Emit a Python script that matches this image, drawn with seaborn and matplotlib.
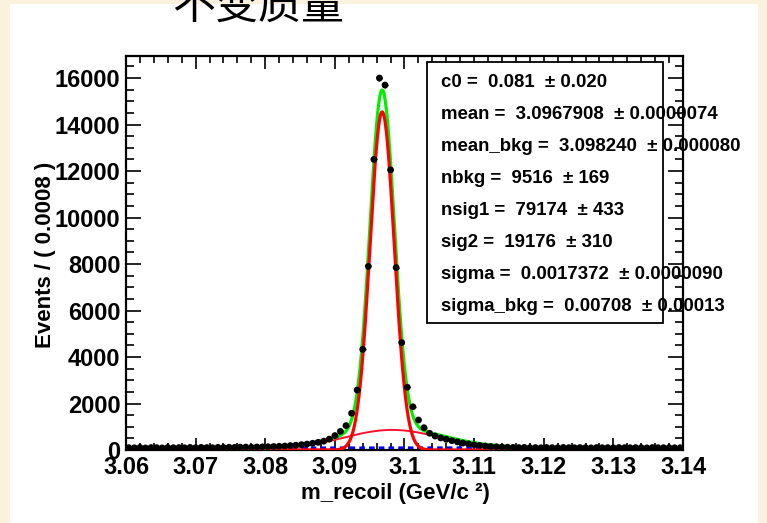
import numpy as np
import pandas as pd
import seaborn as sns
import matplotlib
matplotlib.use("Agg")
import matplotlib.pyplot as plt
from matplotlib.patches import Rectangle
from matplotlib.ticker import MultipleLocator, FuncFormatter

# binning of the histogram
x_lo = 3.06
x_hi = 3.14
bin_width = 0.0008
n_bins = 100

# events per bin
counts = [
    100, 95, 110, 90, 105, 100, 92, 108, 98, 104,
    96, 110, 100, 112, 105, 98, 115, 108, 118, 112,
    120, 125, 118, 130, 135, 140, 150, 160, 172, 190,
    205, 230, 255, 290, 330, 380, 470, 620, 800, 1050,
    1580, 2580, 4330, 7900, 12500, 16000, 15700, 12050, 7850, 4620,
    2700, 1860, 1290, 960, 720, 600, 520, 460, 400, 350,
    300, 260, 225, 200, 170, 150, 140, 125, 120, 110,
    105, 112, 98, 104, 95, 108, 100, 96, 110, 102,
    98, 105, 100, 92, 106, 99, 103, 95, 108, 100,
    97, 104, 99, 93, 106, 101, 98, 104, 96, 100,
]

# fit results shown in the stats box
stat_labels = ["c0", "mean", "mean_bkg", "nbkg", "nsig1", "sig2", "sigma", "sigma_bkg"]
stat_values = ["0.081", "3.0967908", "3.098240", "9516", "79174", "19176", "0.0017372", "0.00708"]
stat_errors = ["0.020", "0.0000074", "0.000080", "169", "433", "310", "0.0000090", "0.00013"]

c0 = 0.081
mean = 3.0967908
mean_bkg = 3.098240
nbkg = 9516
nsig1 = 79174
sig2 = 19176
sigma = 0.0017372
sigma_bkg = 0.00708


def gauss(x, m, s):
    return np.exp(-0.5 * ((x - m) / s) ** 2) / (np.sqrt(2 * np.pi) * s)


centers = x_lo + bin_width * (np.arange(n_bins) + 0.5)
counts = np.array(counts, dtype=float)
df = pd.DataFrame({"m": centers, "n": counts})

xs = np.linspace(x_lo, x_hi, 1601)
narrow = nsig1 * bin_width * gauss(xs, mean, sigma)
broad = sig2 * bin_width * gauss(xs, mean_bkg, sigma_bkg)
xr = (xs - 0.5 * (x_lo + x_hi)) / (0.5 * (x_hi - x_lo))
bkg = nbkg * bin_width / (x_hi - x_lo) * (1 + c0 * xr)
total = narrow + broad + bkg
curves = pd.DataFrame({"m": xs, "narrow": narrow, "broad": broad, "bkg": bkg, "total": total})

sns.set_theme(style="ticks")
plt.rcParams["font.family"] = ["Liberation Sans", "DejaVu Sans"]
plt.rcParams["text.color"] = "black"
plt.rcParams["axes.labelcolor"] = "black"
plt.rcParams["xtick.color"] = "black"
plt.rcParams["ytick.color"] = "black"

fig = plt.figure(figsize=(7.67, 5.23), dpi=100)
fig.patch.set_facecolor("#fbf2de")
fig.patches.append(Rectangle((10 / 767, 0), 748 / 767, 519 / 523,
                             transform=fig.transFigure, facecolor="white",
                             edgecolor="none", zorder=-10))

ax = fig.add_axes([126 / 767, 73 / 523, 557 / 767, 394 / 523])
ax.set_facecolor("white")

sns.lineplot(data=curves, x="m", y="bkg", ax=ax, color="#0000ff", lw=2,
             linestyle=(0, (2, 1.5)), zorder=2)
sns.lineplot(data=curves, x="m", y="broad", ax=ax, color="#ff1030", lw=1.4, zorder=3)
sns.lineplot(data=curves, x="m", y="narrow", ax=ax, color="#ff0000", lw=2.3, zorder=4)
sns.lineplot(data=curves, x="m", y="total", ax=ax, color="#00ee00", lw=2.3, zorder=3.5)

ax.errorbar(df["m"], df["n"], yerr=np.sqrt(df["n"]), xerr=bin_width / 2,
            fmt="none", ecolor="black", elinewidth=1, zorder=5)
sns.scatterplot(data=df, x="m", y="n", ax=ax, color="black", s=24,
                edgecolor="none", zorder=6)

ax.set_xlim(x_lo, x_hi)
ax.set_ylim(0, 16950)

ax.xaxis.set_major_locator(MultipleLocator(0.01))
ax.xaxis.set_minor_locator(MultipleLocator(0.002))
ax.yaxis.set_major_locator(MultipleLocator(2000))
ax.yaxis.set_minor_locator(MultipleLocator(500))
ax.xaxis.set_major_formatter(FuncFormatter(lambda v, p: f"{v:g}"))
ax.yaxis.set_major_formatter(FuncFormatter(lambda v, p: f"{int(round(v))}"))

ax.tick_params(which="both", direction="in", top=True, right=True, width=1.2,
               color="black", labelcolor="black", labelsize=17)
ax.tick_params(axis="x", which="major", length=9, pad=4)
ax.tick_params(axis="x", which="minor", length=5)
ax.tick_params(axis="y", which="major", length=11, pad=4)
ax.tick_params(axis="y", which="minor", length=6)
for lab in ax.get_xticklabels() + ax.get_yticklabels():
    lab.set_fontweight("bold")
for sp in ax.spines.values():
    sp.set_linewidth(1.6)
    sp.set_color("black")

ax.set_xlabel("m_recoil (GeV/c ²)", fontsize=16, fontweight="bold", color="black")
ax.set_ylabel("Events / ( 0.0008 )", fontsize=16, fontweight="bold", color="black")
ax.xaxis.set_label_coords((395 - 126) / 557, (450 - 493) / 394)
ax.yaxis.set_label_coords((46 - 126) / 557, (450 - 255) / 394)
ax.xaxis.label.set_va("center")
ax.yaxis.label.set_va("center")

# stats box
ax.add_patch(Rectangle((0.540, 0.322), 0.424, 0.663, transform=ax.transAxes,
                       facecolor="white", edgecolor="black", lw=1.3, zorder=7))
for i, ypos in enumerate(np.linspace(0.934, 0.365, len(stat_labels))):
    ax.text(0.5655, ypos, f"{stat_labels[i]} =  {stat_values[i]}  ± {stat_errors[i]}",
            transform=ax.transAxes, fontsize=13.4, fontweight="bold", va="center",
            ha="left", zorder=8, clip_on=False, color="black")

# slide title, cut at the top edge
fig.text(258 / 767, 1 - 19 / 523, "不变质量", fontsize=31, ha="center", va="baseline",
         family=["Noto Sans CJK SC", "DejaVu Sans"], color="black")

fig.savefig("out.png", dpi=100, facecolor=fig.get_facecolor())
